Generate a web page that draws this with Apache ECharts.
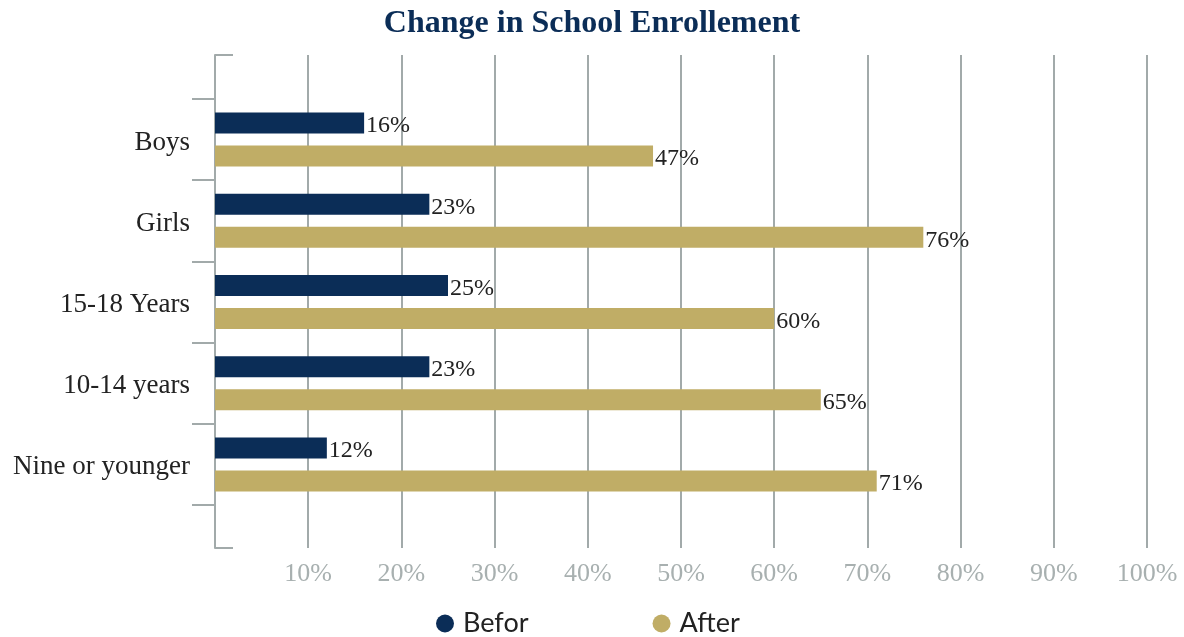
<!DOCTYPE html>
<html>
<head>
<meta charset="utf-8">
<script src="https://cdn.jsdelivr.net/npm/echarts@6/dist/echarts.min.js"></script>
<style>
  html, body { margin: 0; padding: 0; background: #ffffff; }
  #chart { width: 1184px; height: 637px; }
</style>
</head>
<body>
<div id="chart"></div>
<script>
// Enrollment groups, top to bottom
const categories = ['Boys', 'Girls', '15-18 Years', '10-14 years', 'Nine or younger'];
// Share enrolled (%) before and after
const beforeValues = [16, 23, 25, 23, 12];
const afterValues = [47, 76, 60, 65, 71];
const seriesNames = ['Befor', 'After'];

const NAVY = '#0b2d57';
const GOLD = '#c0ad66';
const AXIS_GRAY = '#a2aaaa';
const SERIF = '"Liberation Serif", "Times New Roman", serif';

const chart = echarts.init(document.getElementById('chart'), null, { renderer: 'canvas' });

const valueLabel = {
  show: true,
  position: 'right',
  distance: 2,
  offset: [0, 3],
  formatter: p => p.value + '%',
  color: '#222222',
  fontFamily: SERIF,
  fontSize: 24
};

chart.setOption({
  animation: false,
  title: {
    text: 'Change in School Enrollement',
    left: 'center',
    top: 3,
    textStyle: { fontFamily: SERIF, fontWeight: 'bold', fontSize: 32, color: NAVY }
  },
  legend: {
    bottom: 0,
    left: 436,
    padding: 0,
    itemGap: 124,
    icon: 'circle',
    itemWidth: 18,
    itemHeight: 18,
    textStyle: { fontFamily: 'Lato, sans-serif', fontSize: 27, color: '#222222', padding: [0, 0, 0, 4] },
    data: seriesNames
  },
  grid: [
    // frame with percentage gridlines
    { left: 215, right: 37, top: 55, bottom: 89 },
    // bar area
    { left: 215, right: 37, top: 99, bottom: 132 }
  ],
  xAxis: [
    {
      gridIndex: 0, type: 'value', min: 0, max: 100, interval: 10,
      axisLine: { show: false }, axisTick: { show: false },
      splitLine: { show: true, lineStyle: { color: AXIS_GRAY, width: 2 } },
      axisLabel: {
        margin: 13,
        fontFamily: SERIF, fontSize: 26, color: '#a8b0b0',
        formatter: v => (v === 0 ? '' : v + '%')
      }
    },
    {
      gridIndex: 1, type: 'value', min: 0, max: 100, show: false
    }
  ],
  yAxis: [
    {
      gridIndex: 0, type: 'value', min: 0, max: 1, interval: 1,
      axisLine: { show: true, lineStyle: { color: AXIS_GRAY, width: 2 } },
      axisTick: { show: true, inside: true, length: 18, lineStyle: { color: AXIS_GRAY, width: 2 } },
      splitLine: { show: false },
      axisLabel: { show: false }
    },
    {
      gridIndex: 1, type: 'category', inverse: true, data: categories,
      axisLine: { show: false },
      axisTick: { show: true, length: 23, lineStyle: { color: AXIS_GRAY, width: 2 } },
      axisLabel: {
        margin: 25,
        formatter: v => '{c|' + v + '}',
        rich: {
          c: { fontFamily: SERIF, fontSize: 27, color: '#222222', padding: [6, 0, 0, 0] }
        }
      }
    }
  ],
  series: [
    {
      name: seriesNames[0], type: 'bar', xAxisIndex: 1, yAxisIndex: 1,
      data: beforeValues, barWidth: 21, barGap: '57%',
      itemStyle: { color: NAVY }, label: valueLabel
    },
    {
      name: seriesNames[1], type: 'bar', xAxisIndex: 1, yAxisIndex: 1,
      data: afterValues, barWidth: 21, barGap: '57%',
      itemStyle: { color: GOLD }, label: valueLabel
    }
  ]
});
</script>
</body>
</html>
